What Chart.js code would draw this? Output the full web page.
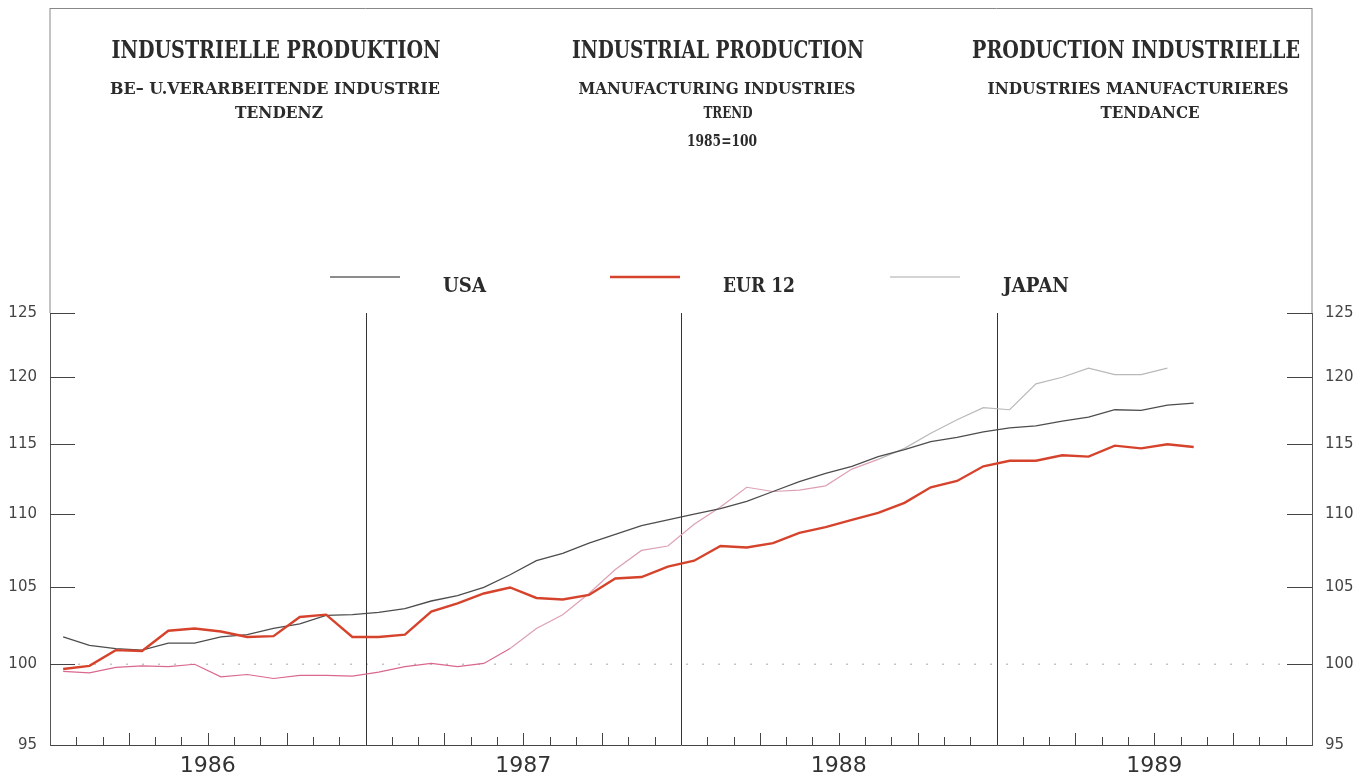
<!DOCTYPE html>
<html>
<head>
<meta charset="utf-8">
<script src="https://cdn.jsdelivr.net/npm/chart.js@4.4.1/dist/chart.umd.min.js"></script>
<style>
  html, body { margin: 0; padding: 0; background: #fff; }
  #box { width: 1368px; height: 778px; }
</style>
</head>
<body>
<div id="box"><canvas id="chart" width="1368" height="778"></canvas></div>
<script>
// monthly values, Jan 1986 onwards (1985 = 100)
const usa = [101.75, 101.2, 101.0, 100.9, 101.35, 101.35, 101.75, 101.9, 102.3, 102.6, 103.15, 103.2,
             103.35, 103.6, 104.1, 104.45, 105.0, 105.85, 106.8, 107.3, 108.0, 108.6, 109.2, 109.6,
             110.0, 110.4, 110.9, 111.6, 112.3, 112.9, 113.4, 114.1, 114.6, 115.2, 115.5, 115.9,
             116.2, 116.35, 116.7, 117.0, 117.55, 117.5, 117.9, 118.05];
const eur12 = [99.7, 99.9, 100.9, 100.85, 102.15, 102.3, 102.1, 101.75, 101.8, 103.05, 103.2, 101.75,
               101.75, 101.9, 103.4, 103.95, 104.6, 105.0, 104.3, 104.2, 104.5, 105.6, 105.7, 106.4,
               106.8, 107.8, 107.7, 108.0, 108.7, 109.1, 109.6, 110.1, 110.8, 111.9, 112.35, 113.4,
               113.8, 113.8, 114.2, 114.1, 114.9, 114.7, 115.0, 114.8];
const japan = [99.55, 99.45, 99.8, 99.9, 99.85, 100.0, 99.2, 99.35, 99.1, 99.3, 99.3, 99.25,
               99.5, 99.85, 100.05, 99.85, 100.05, 101.0, 102.3, 103.2, 104.6, 106.2, 107.5, 107.8,
               109.3, 110.5, 111.9, 111.6, 111.7, 112.0, 113.2, 113.9, 114.7, 115.8, 116.8, 117.7,
               117.55, 119.5, 120.0, 120.7, 120.2, 120.2, 120.7];
const years = ['1986', '1987', '1988', '1989'];
const yTicks = [95, 100, 105, 110, 115, 120, 125];

// title lines: text, centre x, baseline, size, width
const titles = [
    ['INDUSTRIELLE PRODUKTION', 276, 58, 24, 329],
    ['BE\u2013 U.VERARBEITENDE INDUSTRIE', 275, 94, 17, 330],
    ['TENDENZ', 279, 118, 17, 88],
    ['INDUSTRIAL PRODUCTION', 718, 58, 24, 292],
    ['MANUFACTURING INDUSTRIES', 717, 94, 17, 277],
    ['TREND', 728, 118, 17, 49],
    ['1985=100', 722, 146, 16, 70],
    ['PRODUCTION INDUSTRIELLE', 1136, 58, 24, 328],
    ['INDUSTRIES MANUFACTURIERES', 1138, 94, 17, 301],
    ['TENDANCE', 1150, 118, 17, 99]
];
// legend: sample line start, text start, text width
const legendPos = [[330, 443, 43], [610, 723, 72], [890, 1003, 66]];

const toPoints = arr => arr.map((v, i) => ({ x: i + 0.5, y: v }));

const decor = {
    id: 'decor',
    beforeDatasetsDraw(chart) {
        const { ctx, chartArea: a, scales } = chart;
        const x = scales.x, y = scales.y;
        ctx.save();
        ctx.lineWidth = 1;
        // outer frame above the plot
        ctx.strokeStyle = '#888';
        ctx.beginPath();
        ctx.moveTo(a.left, 8.5); ctx.lineTo(a.right, 8.5);
        ctx.moveTo(a.left, 8); ctx.lineTo(a.left, a.top);
        ctx.moveTo(a.right, 8); ctx.lineTo(a.right, a.top);
        ctx.stroke();
        // dotted 100 line
        const y100 = y.getPixelForValue(100);
        ctx.strokeStyle = '#c4c4c4';
        ctx.lineWidth = 1.5;
        ctx.setLineDash([2, 14]);
        ctx.beginPath();
        ctx.moveTo(a.left + 28, y100); ctx.lineTo(a.right - 28, y100);
        ctx.stroke();
        ctx.setLineDash([]);
        ctx.lineWidth = 1;
        // year separators
        ctx.strokeStyle = '#333';
        ctx.beginPath();
        for (let m = 12; m < 48; m += 12) {
            const px = Math.round(x.getPixelForValue(m)) + 0.5;
            ctx.moveTo(px, a.top); ctx.lineTo(px, a.bottom);
        }
        ctx.stroke();
        // month ticks
        ctx.strokeStyle = '#444';
        ctx.beginPath();
        for (let m = 1; m < 48; m++) {
            if (m % 12 === 0) continue;
            const px = Math.round(x.getPixelForValue(m)) + 0.5;
            ctx.moveTo(px, a.bottom); ctx.lineTo(px, a.bottom - (m % 3 === 0 ? 12 : 8));
        }
        // value ticks, both sides
        yTicks.forEach(v => {
            if (v === 95) return;
            const py = Math.round(y.getPixelForValue(v)) + 0.5;
            ctx.moveTo(a.left, py); ctx.lineTo(a.left + 25, py);
            ctx.moveTo(a.right - 25, py); ctx.lineTo(a.right, py);
        });
        ctx.stroke();
        ctx.restore();
    },
    afterDraw(chart) {
        const ctx = chart.ctx;
        ctx.save();
        ctx.fillStyle = '#2b2b2b';
        ctx.textAlign = 'center';
        ctx.textBaseline = 'alphabetic';
        titles.forEach(t => {
            ctx.font = 'bold ' + t[3] + 'px "DejaVu Serif"';
            ctx.fillText(t[0], t[1], t[2], t[4]);
        });
        // legend
        ctx.textAlign = 'left';
        ctx.font = 'bold 21px "DejaVu Serif"';
        chart.data.datasets.forEach((ds, i) => {
            const p = legendPos[i];
            ctx.strokeStyle = ds.legendColor;
            ctx.lineWidth = ds.borderWidth;
            ctx.beginPath();
            ctx.moveTo(p[0], 277); ctx.lineTo(p[0] + 70, 277);
            ctx.stroke();
            ctx.fillText(ds.label, p[1], 292, p[2]);
        });
        ctx.restore();
    }
};

const yAxis = (pos, width) => ({
    type: 'logarithmic',
    position: pos,
    min: 95,
    max: 125,
    bounds: 'data',
    grid: { display: false, drawTicks: false },
    border: { display: true, color: '#555', width: 1 },
    afterBuildTicks: s => { s.ticks = yTicks.map(v => ({ value: v })); },
    afterFit: s => { s.width = width; },
    ticks: {
        padding: 13,
        color: '#444',
        font: { family: 'DejaVu Sans', size: 15 },
        callback: v => String(v)
    }
});

new Chart(document.getElementById('chart'), {
    type: 'line',
    data: {
        datasets: [{
            label: 'USA',
            data: toPoints(usa),
            borderColor: '#4d4d4d',
            legendColor: '#666',
            borderWidth: 1.3,
            order: 1
        }, {
            label: 'EUR 12',
            data: toPoints(eur12),
            borderColor: '#d6432c',
            legendColor: '#d6432c',
            borderWidth: 2.4,
            order: 0
        }, {
            label: 'JAPAN',
            data: toPoints(japan),
            borderColor: '#b9b9b9',
            legendColor: '#aaa',
            borderWidth: 1.2,
            order: 2,
            segment: {
                borderColor: c => c.p0DataIndex < 17 ? '#d9688f' : (c.p0DataIndex < 31 ? '#dda0b2' : '#b9b9b9')
            }
        }]
    },
    options: {
        responsive: false,
        animation: false,
        devicePixelRatio: 1,
        elements: { point: { radius: 0 }, line: { tension: 0 } },
        layout: { padding: { top: 313, left: 0, right: 0, bottom: 0 } },
        plugins: { legend: { display: false }, tooltip: { enabled: false } },
        scales: {
            x: {
                type: 'linear',
                min: 0,
                max: 48,
                grid: { display: false, drawTicks: false },
                border: { display: true, color: '#444', width: 1 },
                afterBuildTicks: s => { s.ticks = years.map((y, i) => ({ value: i * 12 + 6 })); },
                afterFit: s => { s.height = 33; },
                ticks: {
                    autoSkip: false,
                    maxRotation: 0,
                    padding: 8,
                    color: '#333',
                    font: { family: 'DejaVu Sans', size: 22 },
                    callback: v => years[(v - 6) / 12]
                }
            },
            y: yAxis('left', 50),
            y2: yAxis('right', 56)
        }
    },
    plugins: [decor]
});
</script>
</body>
</html>
